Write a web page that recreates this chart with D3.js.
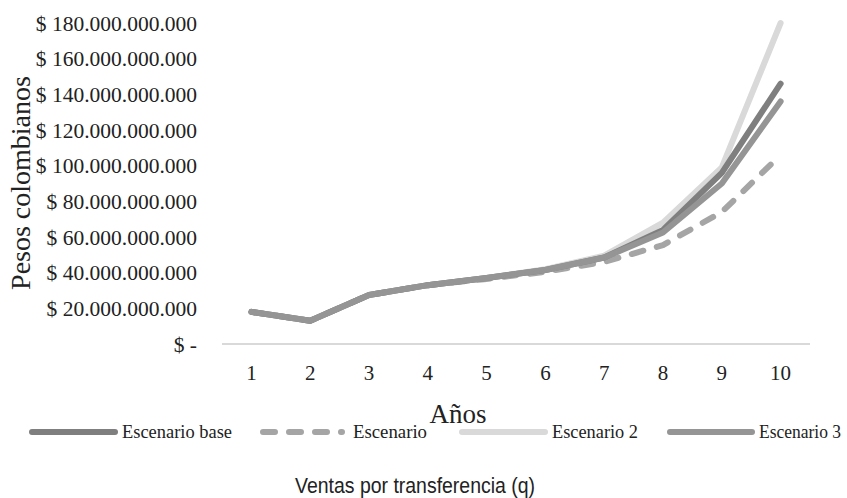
<!DOCTYPE html>
<html>
<head>
<meta charset="utf-8">
<script src="https://cdn.jsdelivr.net/npm/d3@7"></script>
<style>
body { margin: 0; background: #fff; }
</style>
</head>
<body>
<script>
// valores en miles de millones de pesos
let years = [1, 2, 3, 4, 5, 6, 7, 8, 9, 10];
let base = [18, 13, 27.5, 33, 37, 41.5, 48.5, 64, 96, 146];
let escenario = [18, 13, 27.5, 33, 36.5, 40.5, 46, 55.5, 74, 106];
let escenario2 = [18, 13, 27.5, 33, 37, 42, 49.5, 68, 99, 180];
let escenario3 = [18, 13, 27.5, 33, 37, 41.5, 48.5, 62.5, 90, 136];
let yTicks = [0, 20, 40, 60, 80, 100, 120, 140, 160, 180];
let seriesNames = ["Escenario base", "Escenario", "Escenario 2", "Escenario 3"];

function fmt(d) {
    if (d === 0) return "$ -";
    return "$ " + d3.format(",")(d * 1e9).replace(/,/g, ".");
}

function main() {
    let width = 847, height = 498;
    let svg = d3.select("body").append("svg")
        .attr("width", width)
        .attr("height", height);

    let x = d3.scaleBand().domain(years).range([222, 810]);
    let y = d3.scaleLinear().domain([0, 180]).range([344, 23]);

    let series = [
        { name: seriesNames[0], values: base, color: "#7f7f7f", dash: null },
        { name: seriesNames[1], values: escenario, color: "#a5a5a5", dash: "12,14" },
        { name: seriesNames[2], values: escenario2, color: "#d9d9d9", dash: null },
        { name: seriesNames[3], values: escenario3, color: "#959595", dash: null }
    ];

    // eje y (solo etiquetas)
    svg.append("g")
        .attr("font-family", "Liberation Serif, serif")
        .attr("font-size", 21.5)
        .attr("fill", "#222")
        .selectAll("text")
        .data(yTicks)
        .enter()
        .append("text")
        .attr("x", 197)
        .attr("y", d => y(d))
        .attr("dy", "0.35em")
        .attr("text-anchor", "end")
        .text(fmt);

    // linea base
    svg.append("line")
        .attr("x1", x.range()[0]).attr("x2", x.range()[1])
        .attr("y1", y(0)).attr("y2", y(0))
        .attr("stroke", "#d9d9d9")
        .attr("stroke-width", 2);

    // eje x
    svg.append("g")
        .attr("font-family", "Liberation Serif, serif")
        .attr("font-size", 21)
        .attr("fill", "#222")
        .selectAll("text")
        .data(years)
        .enter()
        .append("text")
        .attr("x", d => x(d) + x.bandwidth() / 2)
        .attr("y", 380)
        .attr("text-anchor", "middle")
        .text(d => d);

    let line = d3.line()
        .x((d, i) => x(years[i]) + x.bandwidth() / 2)
        .y(d => y(d));

    // orden de dibujo: claro al fondo
    let drawOrder = [2, 1, 0, 3];
    drawOrder.forEach(function(k) {
        let s = series[k];
        svg.append("path")
            .datum(s.values)
            .attr("d", line)
            .attr("fill", "none")
            .attr("stroke", s.color)
            .attr("stroke-width", 6)
            .attr("stroke-linecap", "round")
            .attr("stroke-linejoin", "round")
            .attr("stroke-dasharray", s.dash);
    });

    // titulos de ejes
    svg.append("text")
        .attr("transform", "translate(30, 183) rotate(-90)")
        .attr("text-anchor", "middle")
        .attr("font-family", "Liberation Serif, serif")
        .attr("font-size", 28)
        .attr("fill", "#222")
        .text("Pesos colombianos");

    svg.append("text")
        .attr("x", 458)
        .attr("y", 423)
        .attr("text-anchor", "middle")
        .attr("font-family", "Liberation Serif, serif")
        .attr("font-size", 27)
        .attr("fill", "#222")
        .text("Años");

    // leyenda
    let legendX1 = [32, 263, 462, 670];
    let legendX2 = [115, 342, 545, 752];
    let textX = [122, 353, 552, 759];
    let textW = [110, 74, 86, 82];
    let legend = svg.append("g");
    series.forEach(function(s, i) {
        legend.append("line")
            .attr("x1", legendX1[i]).attr("x2", legendX2[i])
            .attr("y1", 432).attr("y2", 432)
            .attr("stroke", s.color)
            .attr("stroke-width", 6)
            .attr("stroke-linecap", "round")
            .attr("stroke-dasharray", s.dash);
        legend.append("text")
            .attr("x", textX[i])
            .attr("y", 438)
            .attr("font-family", "Liberation Serif, serif")
            .attr("font-size", 19)
            .attr("fill", "#222")
            .attr("textLength", textW[i])
            .attr("lengthAdjust", "spacingAndGlyphs")
            .text(s.name);
    });

    svg.append("text")
        .attr("x", 295)
        .attr("y", 493)
        .attr("font-family", "Liberation Sans Narrow, Liberation Sans, sans-serif")
        .attr("font-size", 22)
        .attr("fill", "#222")
        .attr("textLength", 240)
        .attr("lengthAdjust", "spacingAndGlyphs")
        .text("Ventas por transferencia (q)");
}

main();
</script>
</body>
</html>
